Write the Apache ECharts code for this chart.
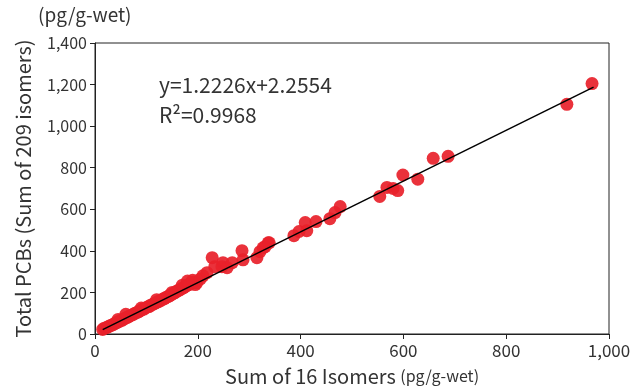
<!DOCTYPE html>
<html>
<head>
<meta charset="utf-8">
<script src="https://cdn.jsdelivr.net/npm/echarts@6/dist/echarts.min.js"></script>
<style>
  html, body { margin: 0; padding: 0; background: #fff; }
  #chart { width: 641px; height: 389px; }
</style>
</head>
<body>
<div id="chart"></div>
<script>
// values (pg/g-wet)
let sum16 = [
  15, 18, 22, 25, 28, 32, 35, 38, 42, 45, 48, 52, 55, 58, 62, 65, 68, 72, 75, 78,
  82, 85, 88, 92, 95, 98, 102, 105, 108, 112, 115, 118, 122, 125, 128, 132, 135, 138, 142, 145,
  148, 152, 155, 158, 162, 165, 168, 172, 175, 178, 182, 185, 188, 192, 195, 198,
  45, 60, 90, 120, 150, 170, 180, 190, 205, 210, 218, 228, 233, 249, 247, 257, 267, 286, 288, 321,
  331, 337, 315, 327, 339, 387, 397, 409, 412, 430, 457, 467, 477, 554, 568, 580, 589, 599, 628, 658,
  687, 918, 967
];
let totalPCBs = [
  22, 28, 30, 34, 38, 42, 45, 50, 55, 58, 62, 66, 70, 75, 80, 82, 88, 92, 95, 100,
  104, 108, 112, 118, 120, 125, 130, 132, 138, 142, 146, 150, 155, 158, 162, 168, 170, 176, 180, 185,
  188, 195, 198, 204, 210, 212, 218, 222, 228, 232, 238, 240, 248, 250, 238, 246,
  70, 95, 125, 165, 200, 235, 255, 258, 265, 280, 295, 367, 324, 343, 324, 319, 343, 401, 357, 396,
  420, 439, 367, 415, 439, 473, 493, 536, 497, 541, 555, 584, 613, 662, 705, 700, 690, 765, 745, 845,
  855, 1105, 1205
];
// regression line end points
let fitX = [15, 970];
let fitY = [21, 1188];
let eqText = 'y=1.2226x+2.2554';
let r2Text = 'R²=0.9968';

let font = '"Noto Sans CJK JP", "Noto Sans", sans-serif';
let textColor = '#333';

let points = sum16.map(function (x, i) { return [x, totalPCBs[i]]; });
let fitLine = fitX.map(function (x, i) { return [x, fitY[i]]; });

let myChart = echarts.init(document.getElementById('chart'));
let option = {
  backgroundColor: '#fff',
  animation: false,
  textStyle: { fontFamily: font },
  grid: {
    left: 95,
    right: 32,
    top: 43,
    bottom: 55,
    outerBoundsMode: 'none',
    containLabel: false,
    show: true,
    borderColor: '#222',
    borderWidth: 1
  },
  xAxis: {
    type: 'value',
    min: 0,
    max: 1000,
    interval: 200,
    name: 'Sum of 16 Isomers {u|(pg/g-wet)}',
    nameLocation: 'middle',
    nameGap: 32,
    nameTextStyle: {
      color: textColor,
      fontSize: 20,
      fontFamily: font,
      rich: { u: { fontSize: 16, color: textColor, fontFamily: font } }
    },
    axisLine: { lineStyle: { color: '#222', width: 1 } },
    axisTick: { inside: false, length: 5, lineStyle: { color: '#222' } },
    splitLine: { show: false },
    axisLabel: {
      color: textColor,
      fontSize: 17,
      margin: 8,
      formatter: function (v) { return v.toLocaleString('en-US'); }
    }
  },
  yAxis: {
    type: 'value',
    min: 0,
    max: 1400,
    interval: 200,
    name: 'Total PCBs (Sum of 209 isomers)',
    nameLocation: 'middle',
    nameGap: 62,
    nameTextStyle: { color: textColor, fontSize: 20, fontFamily: font },
    axisLine: { lineStyle: { color: '#222', width: 1 } },
    axisTick: { inside: false, length: 5, lineStyle: { color: '#222' } },
    splitLine: { show: false },
    axisLabel: {
      color: textColor,
      fontSize: 16,
      margin: 8,
      formatter: function (v) { return v.toLocaleString('en-US'); }
    }
  },
  graphic: [
    {
      type: 'text',
      left: 38,
      top: 5,
      style: { text: '(pg/g-wet)', font: '19px ' + font, fill: textColor }
    },
    {
      type: 'text',
      left: 159,
      top: 75,
      style: { text: eqText, font: '21px ' + font, fill: textColor }
    },
    {
      type: 'text',
      left: 159,
      top: 105,
      style: { text: r2Text, font: '21px ' + font, fill: textColor }
    }
  ],
  series: [
    {
      name: 'points',
      type: 'scatter',
      symbolSize: 13,
      itemStyle: { color: '#e8212a', opacity: 0.92 },
      data: points,
      z: 2
    },
    {
      name: 'fit',
      type: 'line',
      symbol: 'none',
      lineStyle: { color: '#000', width: 1.5 },
      data: fitLine,
      z: 3
    }
  ]
};
myChart.setOption(option);
</script>
</body>
</html>
